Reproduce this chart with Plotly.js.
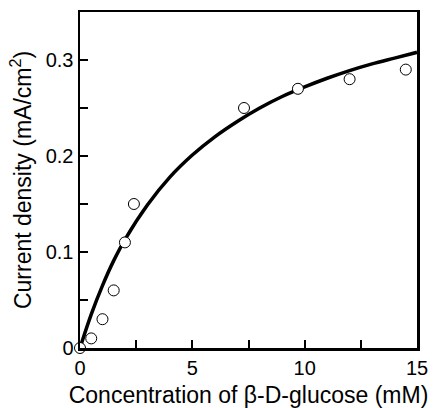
<!DOCTYPE html>
<html>
<head>
<meta charset="utf-8">
<script src="https://cdn.plot.ly/plotly-3.0.1.min.js"></script>
<style>html,body{margin:0;padding:0;background:#fff;}#chart{width:433px;height:408px;}</style>
</head>
<body>
<div id="chart"></div>
<script>
// Measured points
const concPts = [0, 0.5, 1.0, 1.5, 2.0, 2.4, 7.3, 9.7, 12.0, 14.5];
const currentPts = [0, 0.01, 0.03, 0.06, 0.11, 0.15, 0.25, 0.27, 0.28, 0.29];
// Fitted curve
const concFit = [0, 0.5, 1, 1.5, 2, 3, 4, 5, 6, 7, 8, 9, 10, 11, 12, 13, 14, 15];
const currentFit = [0, 0.035, 0.065, 0.091, 0.113, 0.149, 0.178, 0.201, 0.220, 0.236, 0.250, 0.262, 0.272, 0.281, 0.289, 0.296, 0.302, 0.308];
// Ticks (labelled major ticks; unlabelled minor ticks halfway between)
const xTickVals = [0, 5, 10, 15];
const xTickText = ['0', '5', '10', '15'];
const yTickVals = [0, 0.1, 0.2, 0.3];
const yTickText = ['0', '0.1', '0.2', '0.3'];

const font = 'Liberation Sans, Arial, sans-serif';

const traces = [
  {x: concFit, y: currentFit, mode: 'lines', type: 'scatter',
   line: {color: '#000', width: 3.5, shape: 'spline'}, cliponaxis: false, hoverinfo: 'skip'},
  {x: concPts, y: currentPts, mode: 'markers', type: 'scatter',
   marker: {symbol: 'circle', size: 11, color: '#fff', line: {color: '#000', width: 1}}, cliponaxis: false}
];

const layout = {
  width: 433, height: 408,
  margin: {l: 80, r: 16, t: 12, b: 60},
  paper_bgcolor: '#fff', plot_bgcolor: '#fff',
  showlegend: false,
  font: {family: font, color: '#000'},
  xaxis: {
    range: [0, 15], tickmode: 'array', tickvals: xTickVals, ticktext: xTickText,
    ticks: 'inside', ticklen: 8, tickwidth: 2, tickcolor: '#000',
    minor: {dtick: 2.5, tick0: 0, ticks: 'inside', ticklen: 8, tickwidth: 2, tickcolor: '#000', showgrid: false},
    showline: true, linecolor: '#000', linewidth: 2.5, mirror: true,
    showgrid: false, zeroline: false,
    tickfont: {size: 20, family: font},
    title: {text: 'Concentration of β-D-glucose (mM)', font: {size: 23, family: font}, standoff: 16}
  },
  yaxis: {
    range: [0, 0.35], tickmode: 'array', tickvals: yTickVals, ticktext: yTickText,
    ticks: 'inside', ticklen: 8, tickwidth: 2, tickcolor: '#000',
    minor: {dtick: 0.05, tick0: 0, ticks: 'inside', ticklen: 8, tickwidth: 2, tickcolor: '#000', showgrid: false},
    showline: true, linecolor: '#000', linewidth: 2.5, mirror: true,
    showgrid: false, zeroline: false,
    tickfont: {size: 20, family: font},
    title: {text: 'Current density (mA/cm<sup>2</sup>)', font: {size: 23, family: font}, standoff: 8}
  }
};

Plotly.newPlot('chart', traces, layout, {displayModeBar: false, staticPlot: true});
</script>
</body>
</html>
